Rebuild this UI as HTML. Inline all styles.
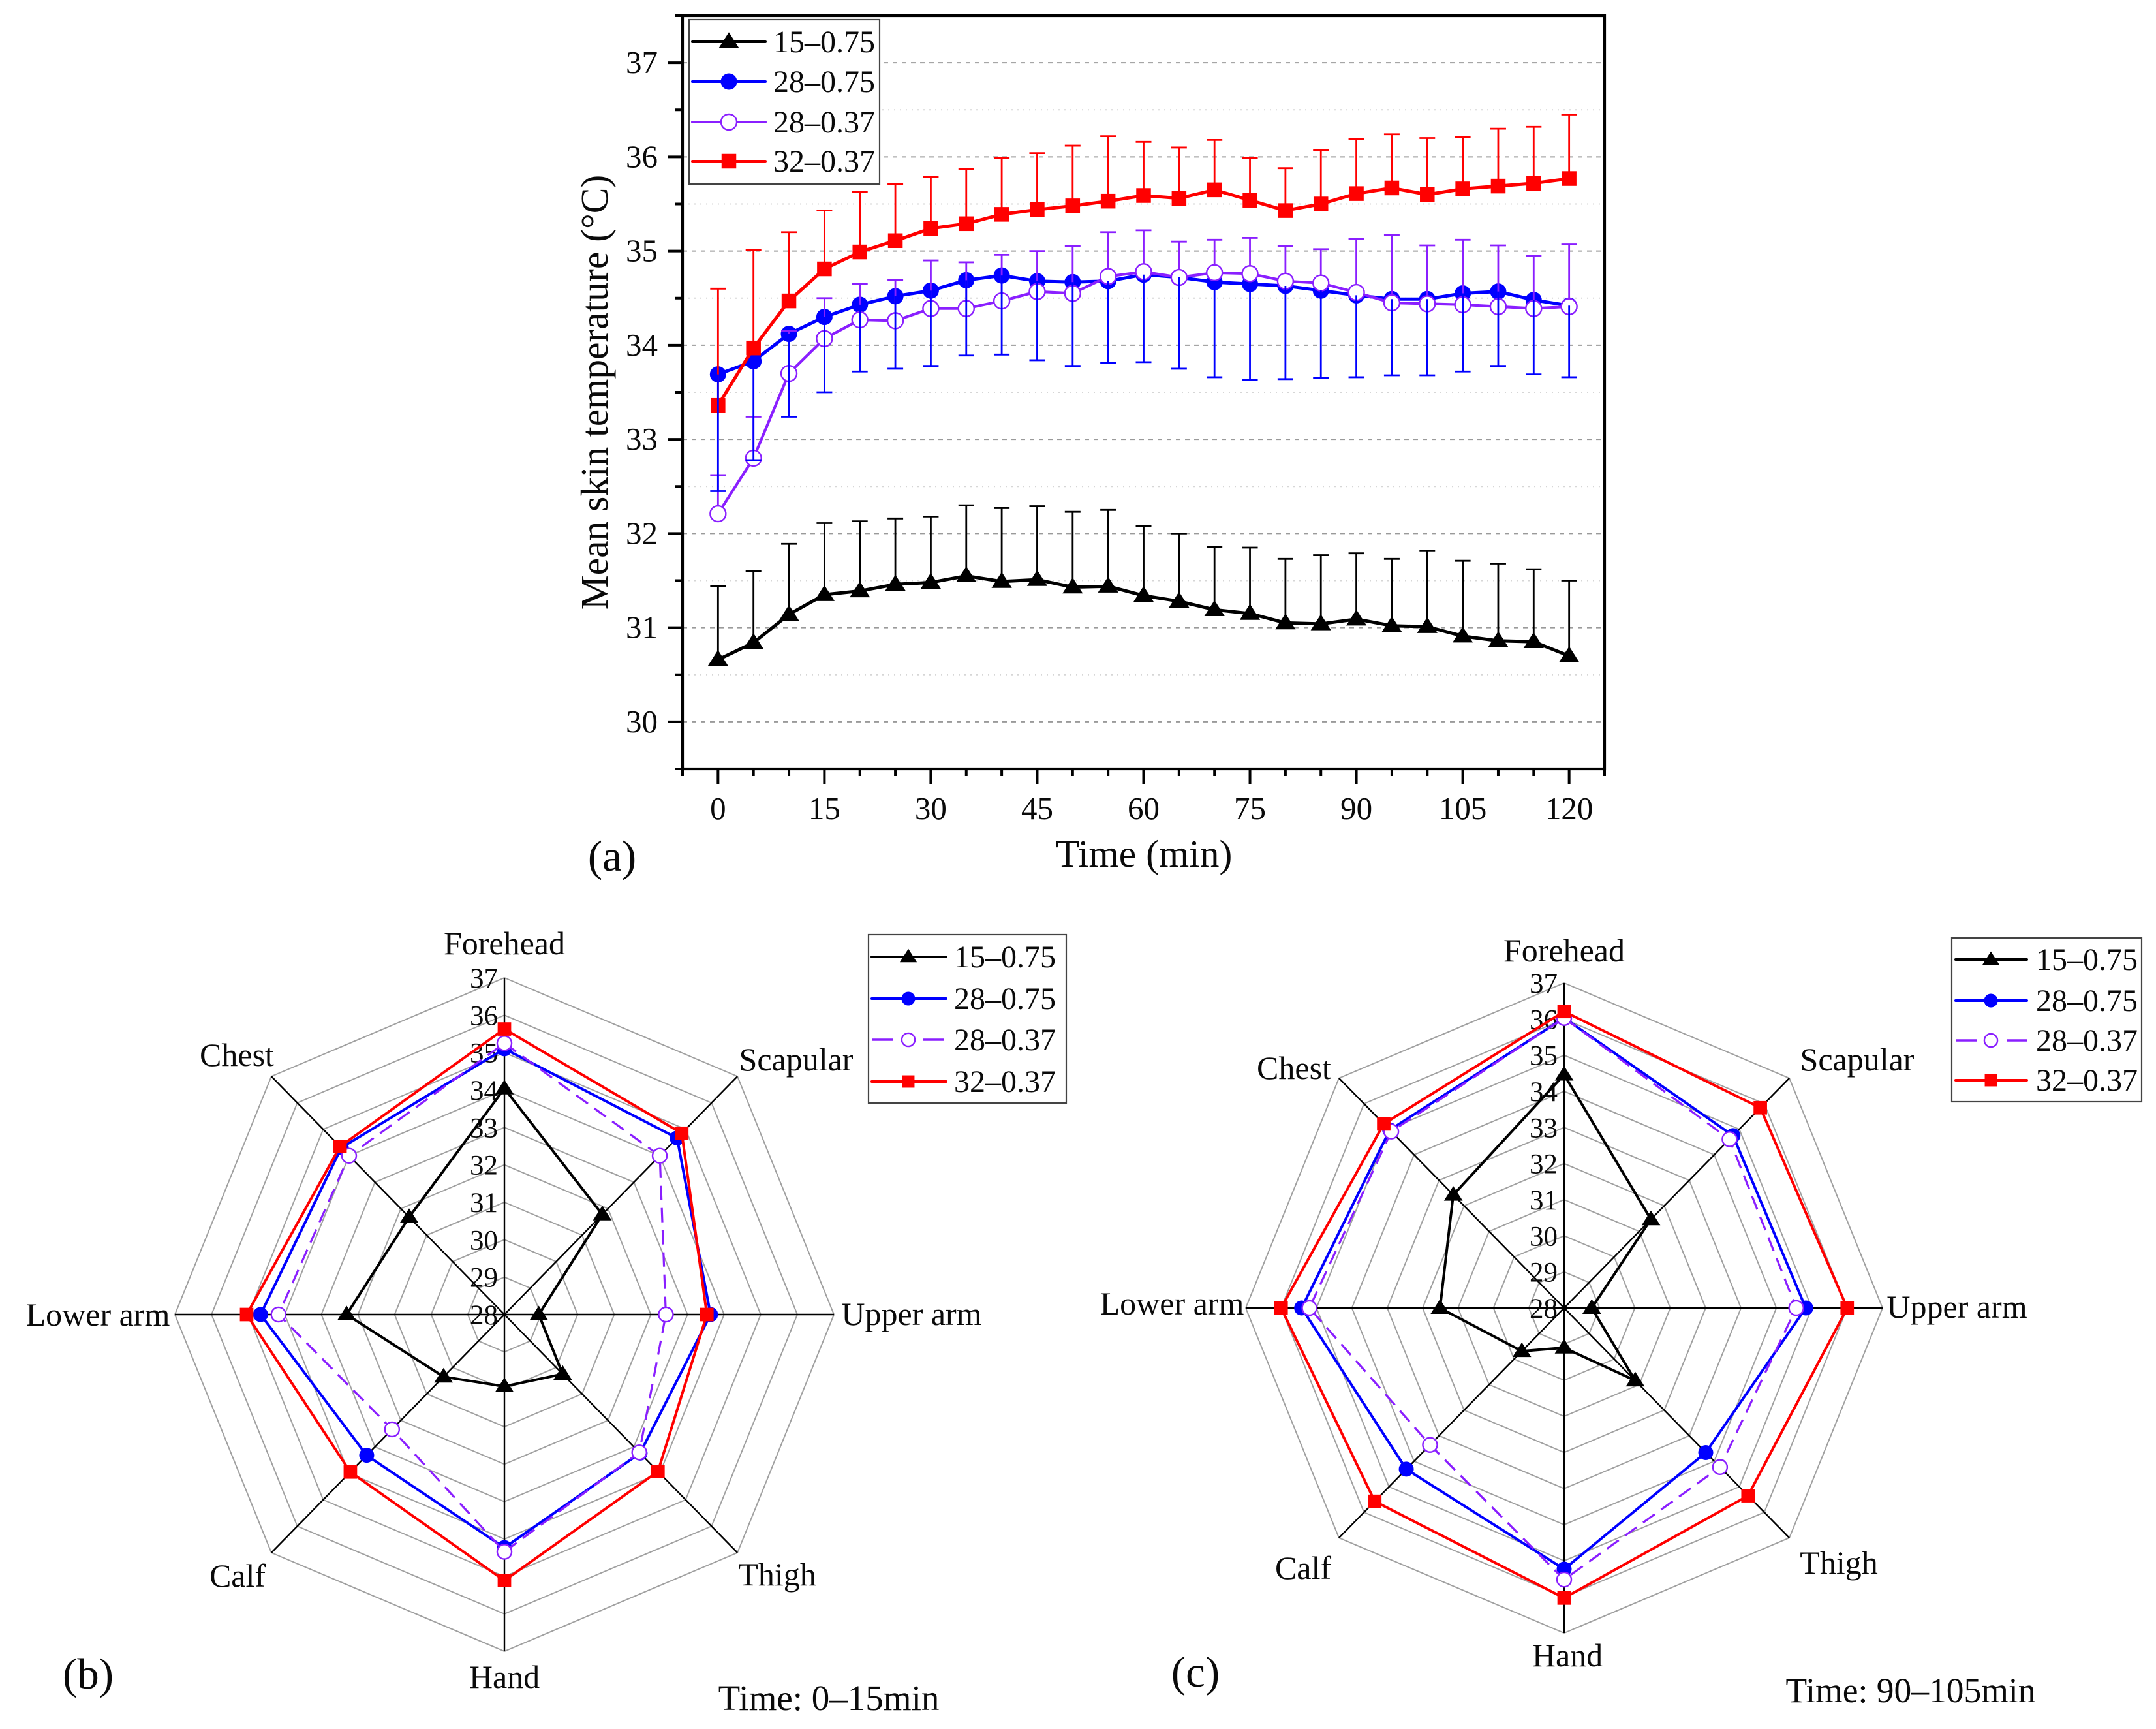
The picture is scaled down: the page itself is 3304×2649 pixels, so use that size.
<!DOCTYPE html>
<html lang="en">
<head>
<meta charset="utf-8">
<title>Mean skin temperature charts</title>
<style>
html,body{margin:0;padding:0;background:#fff;}
svg{display:block;}
text{font-family:"Liberation Serif","Times New Roman",serif;fill:#0a0a0a;}
</style>
</head>
<body>
<svg id="fig" xmlns="http://www.w3.org/2000/svg" width="3304" height="2649" viewBox="0 0 3304 2649"></svg>
<script>
// ---------- Panel (a) data ----------
const times = [0,5,10,15,20,25,30,35,40,45,50,55,60,65,70,75,80,85,90,95,100,105,110,115,120];
const yTickLabels = [30,31,32,33,34,35,36,37];
const xTickLabels = [0,15,30,45,60,75,90,105,120];
const seriesNames = ['15–0.75','28–0.75','28–0.37','32–0.37'];
const seriesColors = ['#000000','#0000ff','#8a1fff','#ff0000'];

const black15 = [30.66,30.84,31.14,31.35,31.39,31.46,31.48,31.55,31.49,31.51,31.43,31.44,31.34,31.28,31.19,31.15,31.05,31.04,31.09,31.02,31.01,30.91,30.86,30.85,30.70];
const black15Upper = [31.44,31.60,31.89,32.11,32.13,32.16,32.18,32.30,32.27,32.29,32.23,32.25,32.08,32.00,31.86,31.85,31.73,31.77,31.79,31.73,31.82,31.71,31.68,31.62,31.50];
const blue28 = [33.69,33.83,34.12,34.30,34.43,34.52,34.58,34.69,34.74,34.68,34.67,34.68,34.75,34.72,34.67,34.65,34.63,34.58,34.53,34.49,34.49,34.55,34.57,34.48,34.42];
const blue28Lower = [32.45,32.78,33.24,33.50,33.72,33.75,33.78,33.89,33.90,33.84,33.78,33.81,33.82,33.75,33.66,33.63,33.64,33.65,33.66,33.68,33.68,33.72,33.78,33.69,33.66];
const purple28 = [32.21,32.80,33.70,34.07,34.27,34.26,34.39,34.39,34.47,34.57,34.55,34.73,34.78,34.72,34.77,34.76,34.68,34.66,34.56,34.45,34.44,34.43,34.41,34.39,34.41];
const purple28Upper = [32.62,33.24,34.15,34.50,34.65,34.69,34.90,34.88,34.96,35.00,35.05,35.20,35.22,35.10,35.12,35.14,35.05,35.02,35.13,35.17,35.06,35.12,35.06,34.95,35.07];
const red32 = [33.36,33.97,34.47,34.81,34.99,35.11,35.24,35.29,35.39,35.44,35.48,35.53,35.59,35.56,35.65,35.54,35.43,35.50,35.61,35.67,35.60,35.66,35.69,35.72,35.77];
const red32Upper = [34.60,35.01,35.20,35.43,35.63,35.71,35.79,35.87,35.99,36.04,36.12,36.22,36.16,36.10,36.18,35.99,35.88,36.07,36.19,36.24,36.20,36.21,36.30,36.32,36.45];

// ---------- Radar data (clockwise from top) ----------
const bodySites = ['Forehead','Scapular','Upper arm','Thigh','Hand','Calf','Lower arm','Chest'];
const ringLabels = [28,29,30,31,32,33,34,35,36,37];
const radarB15 = [34.04,31.78,28.94,30.25,29.92,30.35,32.31,31.68];
const radarB28 = [35.10,34.67,33.63,33.24,34.23,33.32,34.66,34.30];
const radarB28Low = [35.25,34.00,32.41,33.21,34.34,32.34,34.17,34.00];
const radarB32 = [35.63,34.85,33.53,33.93,35.11,33.95,35.04,34.35];
const radarC15 = [34.46,31.47,28.78,30.84,29.10,29.69,31.51,32.43];
const radarC28 = [36.03,34.75,34.83,33.66,35.23,34.31,35.42,34.97];
const radarC28Low = [36.03,34.61,34.56,34.23,35.52,33.36,35.20,34.91];
const radarC32 = [36.21,35.84,36.00,35.35,36.03,35.57,36.00,35.21];

// ---------- Helpers ----------
const svgNS = 'http://www.w3.org/2000/svg';
const fig = document.getElementById('fig');
function add(parent, tag, attrs, name, interact) {
  const el = document.createElementNS(svgNS, tag);
  for (const k in attrs) el.setAttribute(k, attrs[k]);
  
  
  parent.appendChild(el);
  return el;
}
function group(parent, name) { return add(parent, 'g', {}, name, false); }
function label(parent, x, y, str, size, anchor, name, extra) {
  const t = add(parent, 'text', Object.assign({x:x, y:y, 'font-size':size, 'text-anchor':anchor}, extra || {}), name, false);
  t.textContent = str;
  return t;
}
function marker(parent, kind, x, y, s, color, name) {
  if (kind === 0) {
    add(parent, 'polygon', {points:[x, y-s*1.18, x+s*1.25, y+s*0.78, x-s*1.25, y+s*0.78].reduce((a,v,i)=>a+(i%2?',':' ')+v.toFixed(1),''), fill:color}, name, false);
  } else if (kind === 1) {
    add(parent, 'circle', {cx:x, cy:y, r:s, fill:color}, name, false);
  } else if (kind === 2) {
    add(parent, 'circle', {cx:x, cy:y, r:s*0.96, fill:'#fff', stroke:color, 'stroke-width':2.4}, name, false);
  } else {
    add(parent, 'rect', {x:x-s*0.9, y:y-s*0.9, width:s*1.8, height:s*1.8, fill:color}, name, false);
  }
}
function legend(parent, box, rows, line, mx, tx, size, dashed, name) {
  const g = group(parent, name);
  add(g, 'rect', {x:box[0], y:box[1], width:box[2]-box[0], height:box[3]-box[1], fill:'#fff', stroke:'#444', 'stroke-width':2.2}, name + '-frame', false);
  seriesNames.forEach((s, i) => {
    const y = rows[i];
    const eg = group(g, 'legend-entry-' + s);
    const attrs = {x1:line[0], x2:line[1], y1:y, y2:y, stroke:seriesColors[i], 'stroke-width':4, 'stroke-linecap':'round'};
    if (dashed && i === 2) { attrs['stroke-dasharray'] = '32 46'; attrs['stroke-width'] = 3.4; attrs['stroke-linecap'] = 'butt'; }
    add(eg, 'line', attrs, 'legend-line', false);
    marker(eg, i, mx, y, dashed ? 10.5 : 12.5, seriesColors[i], 'legend-marker');
    label(eg, tx, y + 16, s, size, 'start', 'legend-label');
  });
}

// ---------- Panel (a) ----------
const pa = group(fig, 'line-chart-panel-a');
const plotL = 1046, plotR = 2459, plotT = 24, plotB = 1178;
const xMin = -5, xMax = 125, yMin = 29.5, yMax = 37.5;
const sx = v => plotL + (v - xMin) / (xMax - xMin) * (plotR - plotL);
const sy = v => plotB - (v - yMin) / (yMax - yMin) * (plotB - plotT);

const gridG = group(pa, 'gridlines');
for (let v = yMin + 0.5; v < yMax; v += 0.5) {
  const major = Number.isInteger(v);
  add(gridG, 'line', {x1:plotL, x2:plotR, y1:sy(v), y2:sy(v), stroke: major ? '#9a9a9a' : '#d6d6d6', 'stroke-width':2, 'stroke-dasharray': major ? '7 7' : '2 7'}, major ? 'major-gridline' : 'minor-gridline', false);
}
const barDefs = [
  {vals:black15, ends:black15Upper, i:0},
  {vals:purple28, ends:purple28Upper, i:2},
  {vals:red32, ends:red32Upper, i:3},
  {vals:blue28, ends:blue28Lower, i:1}
];
function drawBars(parent, d) {
  const c = seriesColors[d.i];
  const g = group(parent, 'error-bars-' + seriesNames[d.i]);
  times.forEach((t, k) => {
    add(g, 'line', {x1:sx(t), x2:sx(t), y1:sy(d.vals[k]), y2:sy(d.ends[k]), stroke:c, 'stroke-width':2.8}, 'error-bar', false);
    add(g, 'line', {x1:sx(t)-12, x2:sx(t)+12, y1:sy(d.ends[k]), y2:sy(d.ends[k]), stroke:c, 'stroke-width':2.8}, 'error-bar-cap', false);
  });
}
function drawSeries(parent, vals, i) {
  const g = group(parent, 'series-' + seriesNames[i]);
  const pts = times.map((t, k) => sx(t).toFixed(1) + ',' + sy(vals[k]).toFixed(1)).join(' ');
  add(g, 'polyline', {points:pts, fill:'none', stroke:seriesColors[i], 'stroke-width': i === 2 ? 4.2 : 5, 'stroke-linejoin':'round'}, 'series-line', false);
  times.forEach((t, k) => marker(g, i, sx(t), sy(vals[k]), 12.5, seriesColors[i], 'data-point'));
}
drawBars(pa, barDefs[0]);
drawSeries(pa, black15, 0);
drawSeries(pa, blue28, 1);
drawBars(pa, barDefs[2]);
drawSeries(pa, red32, 3);
drawBars(pa, barDefs[1]);
drawSeries(pa, purple28, 2);
drawBars(pa, barDefs[3]);

add(pa, 'rect', {x:plotL, y:plotT, width:plotR-plotL, height:plotB-plotT, fill:'none', stroke:'#000', 'stroke-width':4.2}, 'plot-frame', false);
const yAxisG = group(pa, 'y-axis');
for (let v = yMin; v <= yMax; v += 0.5) {
  const major = Number.isInteger(v);
  add(yAxisG, 'line', {x1:plotL - (major ? 22 : 11), x2:plotL, y1:sy(v), y2:sy(v), stroke:'#000', 'stroke-width':4}, major ? 'y-major-tick' : 'y-minor-tick', false);
}
yTickLabels.forEach(v => label(yAxisG, 1008, sy(v) + 16, String(v), 49, 'end', 'y-tick-label'));
const xAxisG = group(pa, 'x-axis');
for (let v = xMin; v <= xMax; v += 5) {
  const major = v % 15 === 0;
  add(xAxisG, 'line', {x1:sx(v), x2:sx(v), y1:plotB, y2:plotB + (major ? 23 : 11), stroke:'#000', 'stroke-width':4}, major ? 'x-major-tick' : 'x-minor-tick', false);
}
xTickLabels.forEach(v => label(xAxisG, sx(v), 1255, String(v), 49, 'middle', 'x-tick-label'));
label(pa, 1753, 1328, 'Time (min)', 59.5, 'middle', 'x-axis-title');
label(pa, 931, 601, 'Mean skin temperature (°C)', 59.5, 'middle', 'y-axis-title', {transform:'rotate(-90 931 601)'});
label(pa, 938, 1334, '(a)', 67, 'middle', 'panel-a-label');
legend(pa, [1056,30,1348,282], [64,125,187,247], [1061,1173], 1117, 1185, 48, false, 'legend-panel-a');

// ---------- Radar panels ----------
const ringMin = 28, ringMax = 37;
function radar(cfg) {
  const g = group(fig, cfg.name);
  const ang = i => i * Math.PI / 4;
  const pos = (v, i) => {
    const f = (v - ringMin) / (ringMax - ringMin);
    return [cfg.cx + cfg.rx * f * Math.sin(ang(i)), cfg.cy - cfg.ry * f * Math.cos(ang(i))];
  };
  const rings = group(g, 'radar-rings');
  ringLabels.slice(1).forEach(v => {
    const pts = bodySites.map((s, i) => pos(v, i).map(n => n.toFixed(1)).join(',')).join(' ');
    add(rings, 'polygon', {points:pts, fill:'none', stroke:'#a0a0a0', 'stroke-width':2}, 'radar-ring', false);
  });
  const spokes = group(g, 'radar-spokes');
  bodySites.forEach((s, i) => {
    const p = pos(ringMax, i);
    add(spokes, 'line', {x1:cfg.cx, y1:cfg.cy, x2:p[0], y2:p[1], stroke:'#000', 'stroke-width':2.4}, 'radar-spoke-' + s, false);
  });
  const ringText = group(g, 'radar-scale-labels');
  ringLabels.forEach(v => {
    const p = pos(v, 0);
    label(ringText, cfg.cx - 10, p[1] + 15, String(v), 43, 'end', 'radar-scale-label');
  });
  cfg.series.forEach((vals, s) => {
    const sg = group(g, 'radar-series-' + seriesNames[s]);
    const pts = vals.map((v, i) => pos(v, i).map(n => n.toFixed(1)).join(',')).join(' ');
    const attrs = {points:pts, fill:'none', stroke:seriesColors[s], 'stroke-width':s === 2 ? 3.2 : 4, 'stroke-linejoin':'round'};
    if (s === 2) attrs['stroke-dasharray'] = '22 12';
    add(sg, 'polygon', attrs, 'radar-line', false);
    vals.forEach((v, i) => {
      const p = pos(v, i);
      marker(sg, s, p[0], p[1], 11.5, seriesColors[s], 'radar-point');
    });
  });
  bodySites.forEach((s, i) => {
    label(g, cfg.labels[i][0], cfg.labels[i][1] + 16, s, 50, 'middle', 'axis-label-' + s.toLowerCase().replace(' ', '-'));
  });
  label(g, cfg.tag[0], cfg.tag[1] + 20, cfg.tag[2], 67, 'middle', cfg.tag[3]);
  label(g, cfg.time[0], cfg.time[1] + 18, cfg.time[2], cfg.time[4], 'middle', cfg.time[3]);
  legend(g, cfg.box, cfg.rows, cfg.line, cfg.mx, cfg.tx, 48, true, cfg.legendName);
}
radar({
  name:'radar-panel-b', cx:773, cy:2014, rx:505, ry:516,
  series:[radarB15, radarB28, radarB28Low, radarB32],
  labels:[[773,1446],[1220,1624],[1397,2014],[1191,2413],[773,2570],[364,2415],[150,2015],[363,1617]],
  tag:[135,2567,'(b)','panel-b-label'], time:[1270,2602,'Time: 0–15min','time-window-b',55],
  box:[1331,1432,1634,1690], rows:[1466,1530,1593,1657], line:[1336,1450], mx:1392, tx:1462, legendName:'legend-panel-b'
});
radar({
  name:'radar-panel-c', cx:2397, cy:2004, rx:488, ry:498,
  series:[radarC15, radarC28, radarC28Low, radarC32],
  labels:[[2397,1457],[2846,1624],[2999,2003],[2818,2395],[2402,2537],[1997,2403],[1796,1998],[1983,1637]],
  tag:[1832,2564,'(c)','panel-c-label'], time:[2928,2590,'Time: 90–105min','time-window-c',53.5],
  box:[2991,1437,3282,1688], rows:[1470,1533,1594,1655], line:[2997,3106], mx:3051, tx:3120, legendName:'legend-panel-c'
});
</script>
</body>
</html>
